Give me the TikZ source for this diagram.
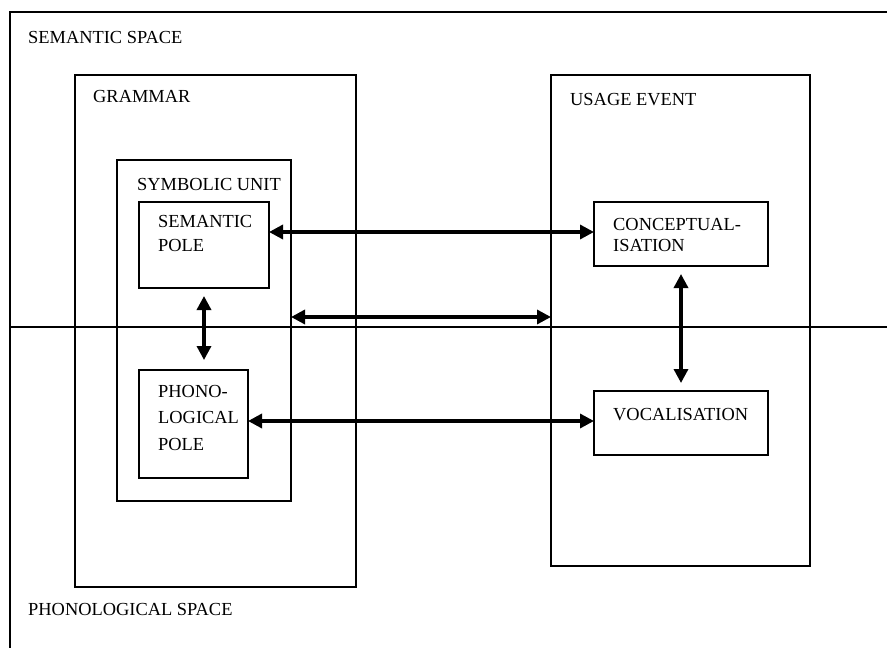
\documentclass[tikz,border=0pt]{standalone}
\usepackage{fontspec}
\setmainfont{Liberation Serif}
\usetikzlibrary{arrows.meta}
\begin{document}
\begin{tikzpicture}[x=1pt,y=-1pt,
  box/.style={draw, line width=1.9pt, rectangle, inner sep=0pt, outer sep=0pt, anchor=north west},
  lbl/.style={anchor=base west, inner sep=0pt, font=\fontsize{18.4}{22}\selectfont},
  arr/.style={line width=3.3pt, {Triangle[length=14pt,width=14pt]}-{Triangle[length=14pt,width=14pt]}},
  frame/.style={line width=1.9pt}
]
\useasboundingbox (0,0) rectangle (887,648);
% spaces
\draw[frame] (887,12) -- (10,12) -- (10,648);
\draw[frame] (10,327) -- (887,327);
% boxes
\node[box, minimum width=281pt, minimum height=512pt] (gram) at (75,75) {};
\node[box, minimum width=174pt, minimum height=341pt] (sym) at (117,160) {};
\node[box, minimum width=130pt, minimum height=86pt] (sem) at (139,202) {};
\node[box, minimum width=109pt, minimum height=108pt] (phon) at (139,370) {};
\node[box, minimum width=259pt, minimum height=491pt] (use) at (551,75) {};
\node[box, minimum width=174pt, minimum height=64pt] (conc) at (594,202) {};
\node[box, minimum width=174pt, minimum height=64pt] (voc) at (594,391) {};
% labels
\node[lbl] (tSem) at (28,43) {SEMANTIC SPACE};
\node[lbl] (tGram) at (93,102) {GRAMMAR};
\node[lbl] (tUse) at (570,105) {USAGE EVENT};
\node[lbl] (tSym) at (137,190) {SYMBOLIC UNIT};
\node[lbl] (tSp1) at (158,227) {SEMANTIC};
\node[lbl] (tSp2) at (158,251) {POLE};
\node[lbl] (tPp1) at (158,397) {PHONO-};
\node[lbl] (tPp2) at (158,423) {LOGICAL};
\node[lbl] (tPp3) at (158,450) {POLE};
\node[lbl] (tC1) at (613,230) {CONCEPTUAL-};
\node[lbl] (tC2) at (613,251) {ISATION};
\node[lbl] (tV) at (613,420) {VOCALISATION};
\node[lbl] (tPh) at (28,615) {PHONOLOGICAL SPACE};
% connectors
\coordinate (a1) at (0,232);
\coordinate (a2) at (0,317);
\coordinate (a3) at (0,421);
\draw[arr] (a1 -| sem.east) -- (a1 -| conc.west);
\draw[arr] (a2 -| sym.east) -- (a2 -| use.west);
\draw[arr] (a3 -| phon.east) -- (a3 -| voc.west);
\draw[arr, shorten <=8pt, shorten >=10pt] (sem.south) -- (sem.south |- phon.north);
\draw[arr, shorten <=8pt, shorten >=8pt] (conc.south) -- (conc.south |- voc.north);
\end{tikzpicture}
\end{document}
